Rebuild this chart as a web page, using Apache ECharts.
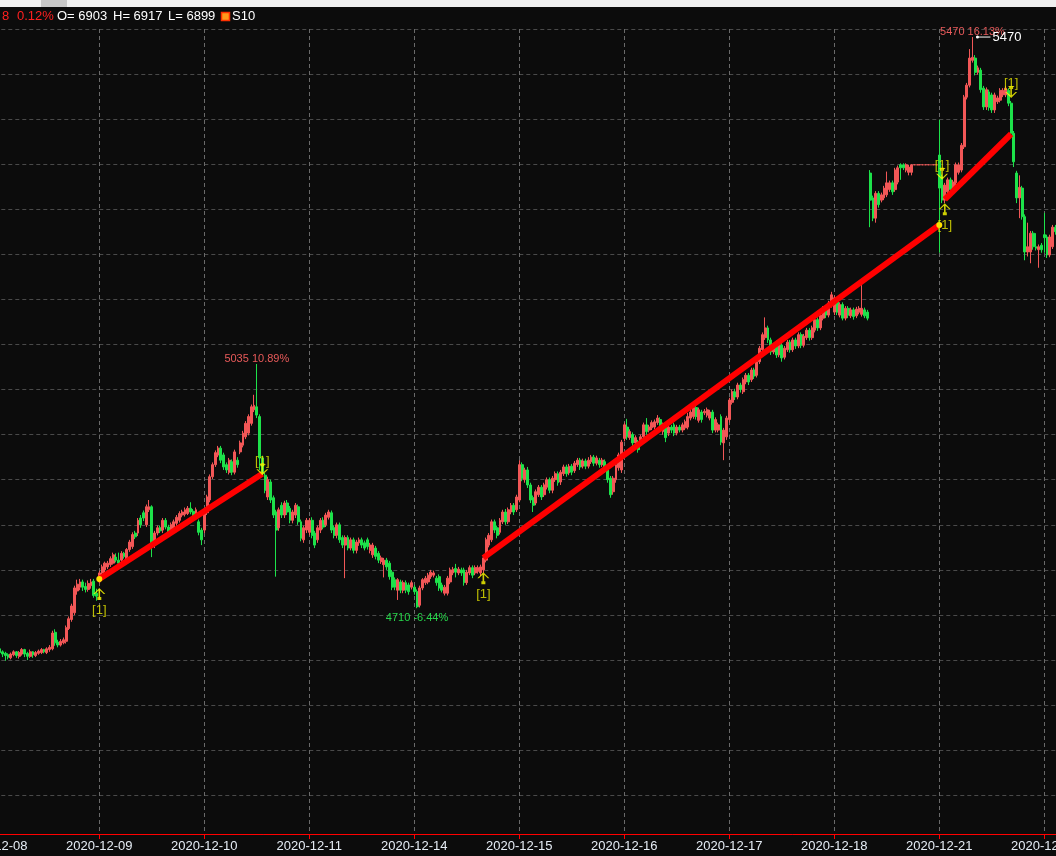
<!DOCTYPE html>
<html><head><meta charset="utf-8">
<script src="https://cdn.jsdelivr.net/npm/echarts@6/dist/echarts.min.js"></script>
<style>html,body{margin:0;padding:0;background:#0c0c0c;overflow:hidden}#c{width:1056px;height:856px}</style>
</head><body><div id="c"></div>
<script>
// ---- data ----
const days = ['2020-12-08','2020-12-09','2020-12-10','2020-12-11','2020-12-14','2020-12-15','2020-12-16','2020-12-17','2020-12-18','2020-12-21','2020-12-22'];
const barsPerDay = 38;
// bars: [open, close, low, high]
const d1208 = [[4652,4650,4647,4655],[4650,4654,4648,4657],[4656,4651,4648,4659],[4652,4649,4645,4654],[4650,4647,4640,4652],[4648,4645,4642,4650],[4644,4649,4642,4651],[4648,4652,4646,4654],[4652,4647,4644,4653],[4646,4651,4643,4653],[4649,4655,4647,4657],[4655,4649,4645,4656],[4650,4646,4641,4652],[4646,4652,4644,4655],[4652,4648,4644,4653],[4647,4651,4645,4653],[4650,4653,4648,4655],[4651,4655,4649,4657],[4655,4652,4650,4656],[4651,4656,4649,4658],[4655,4658,4652,4661],[4656,4677,4654,4680],[4678,4664,4660,4682],[4665,4661,4658,4668],[4661,4666,4659,4669],[4664,4668,4662,4671],[4666,4684,4663,4687],[4683,4696,4681,4699],[4695,4713,4692,4716],[4704,4737,4701,4740],[4733,4742,4728,4748],[4738,4745,4734,4749],[4745,4738,4733,4748],[4739,4735,4731,4744],[4735,4743,4732,4747],[4740,4745,4736,4749],[4746,4727,4724,4749],[4730,4726,4720,4736]];
const d1209 = [[4745,4757,4743,4760],[4757,4765,4753,4768],[4761,4770,4758,4772],[4765,4770,4762,4773],[4768,4776,4765,4779],[4770,4781,4768,4784],[4778,4774,4771,4783],[4774,4770,4768,4784],[4774,4783,4771,4786],[4783,4779,4776,4785],[4774,4788,4771,4790],[4788,4798,4785,4801],[4792,4808,4789,4811],[4810,4805,4802,4813],[4810,4827,4806,4830],[4830,4821,4817,4834],[4837,4830,4826,4840],[4821,4845,4818,4848],[4841,4845,4838,4854],[4845,4794,4778,4847],[4794,4810,4790,4813],[4810,4817,4807,4820],[4817,4813,4810,4820],[4814,4827,4810,4830],[4827,4818,4815,4830],[4818,4810,4806,4821],[4814,4821,4811,4824],[4818,4825,4815,4828],[4823,4831,4820,4834],[4827,4836,4824,4839],[4834,4838,4831,4841],[4835,4841,4832,4844],[4836,4843,4834,4846],[4843,4838,4835,4851],[4839,4834,4831,4842],[4834,4841,4831,4844],[4825,4811,4807,4828],[4814,4801,4794,4817]];
const d1210 = [[4814,4837,4810,4840],[4837,4858,4834,4861],[4854,4885,4851,4888],[4885,4901,4882,4904],[4901,4917,4898,4920],[4914,4923,4911,4926],[4923,4907,4903,4926],[4914,4898,4894,4917],[4901,4894,4890,4904],[4891,4907,4888,4910],[4905,4891,4887,4908],[4891,4918,4888,4921],[4907,4901,4897,4911],[4918,4930,4915,4933],[4927,4943,4924,4946],[4938,4956,4935,4959],[4943,4965,4940,4968],[4956,4978,4953,4981],[4974,4980,4971,4994],[4978,4967,4963,5035],[4965,4910,4894,4968],[4910,4890,4885,4913],[4887,4867,4863,4890],[4858,4881,4854,4885],[4878,4854,4850,4881],[4857,4834,4830,4860],[4838,4814,4752,4841],[4817,4841,4813,4844],[4847,4834,4830,4851],[4834,4850,4830,4853],[4850,4838,4834,4854],[4843,4827,4823,4846],[4827,4838,4823,4841],[4834,4847,4830,4850],[4845,4825,4821,4848],[4825,4803,4799,4828],[4801,4817,4797,4820],[4814,4827,4810,4830]];
const d1211 = [[4811,4827,4807,4830],[4827,4807,4803,4831],[4810,4794,4790,4813],[4801,4817,4797,4820],[4814,4827,4810,4830],[4827,4818,4815,4831],[4821,4834,4818,4837],[4831,4838,4828,4841],[4837,4814,4810,4840],[4817,4807,4803,4820],[4807,4821,4803,4824],[4821,4801,4797,4824],[4804,4794,4790,4807],[4794,4804,4750,4807],[4804,4790,4787,4807],[4790,4801,4787,4804],[4801,4787,4783,4804],[4787,4798,4783,4801],[4797,4801,4793,4804],[4801,4794,4790,4804],[4797,4790,4787,4800],[4801,4792,4788,4804],[4787,4794,4783,4797],[4781,4794,4777,4797],[4790,4779,4775,4793],[4783,4774,4770,4786],[4772,4777,4769,4780],[4768,4774,4751,4777],[4774,4765,4761,4777],[4770,4752,4748,4773],[4758,4738,4734,4761],[4748,4738,4734,4751],[4734,4748,4721,4750],[4745,4734,4730,4748],[4734,4744,4730,4747],[4744,4734,4730,4747],[4741,4732,4728,4744],[4738,4744,4735,4747]];
const d1214 = [[4738,4732,4728,4741],[4732,4712,4710,4735],[4714,4737,4711,4740],[4737,4748,4734,4750],[4744,4750,4741,4753],[4745,4754,4742,4757],[4752,4758,4749,4761],[4754,4757,4751,4760],[4750,4744,4740,4753],[4752,4737,4733,4755],[4741,4734,4731,4744],[4730,4738,4727,4741],[4730,4750,4727,4753],[4745,4761,4742,4764],[4757,4762,4754,4765],[4763,4758,4751,4769],[4757,4762,4754,4765],[4761,4757,4753,4764],[4761,4744,4740,4764],[4744,4758,4741,4761],[4757,4764,4754,4767],[4764,4754,4750,4767],[4757,4764,4754,4767],[4759,4764,4756,4767],[4757,4765,4753,4768],[4761,4777,4757,4780],[4774,4801,4771,4804],[4794,4807,4791,4810],[4801,4825,4798,4828],[4825,4814,4810,4828],[4817,4807,4803,4820],[4811,4827,4808,4830],[4825,4838,4822,4841],[4838,4825,4821,4842],[4825,4841,4822,4844],[4838,4847,4835,4850],[4847,4838,4834,4850],[4841,4858,4838,4861]];
const d1215 = [[4854,4901,4851,4907],[4901,4883,4879,4904],[4881,4894,4877,4897],[4894,4874,4870,4898],[4874,4854,4850,4877],[4857,4847,4838,4860],[4850,4865,4847,4868],[4861,4871,4858,4874],[4871,4858,4854,4874],[4861,4874,4858,4877],[4871,4881,4868,4884],[4881,4867,4863,4884],[4867,4883,4863,4886],[4881,4889,4878,4892],[4889,4877,4873,4892],[4878,4891,4874,4894],[4889,4898,4886,4901],[4898,4889,4885,4901],[4890,4899,4887,4902],[4899,4891,4887,4902],[4893,4903,4890,4906],[4901,4907,4898,4910],[4907,4898,4894,4910],[4899,4906,4896,4909],[4906,4899,4895,4909],[4899,4907,4896,4911],[4905,4911,4902,4914],[4911,4903,4899,4914],[4903,4910,4900,4913],[4907,4901,4897,4910],[4901,4907,4898,4910],[4905,4894,4890,4908],[4894,4881,4877,4897],[4883,4861,4857,4886],[4865,4883,4861,4886],[4881,4901,4877,4904],[4897,4914,4893,4917],[4894,4931,4890,4934]];
const d1216 = [[4936,4954,4932,4957],[4951,4938,4934,4962],[4937,4945,4934,4948],[4941,4930,4926,4944],[4930,4937,4927,4940],[4931,4921,4917,4934],[4930,4938,4926,4941],[4938,4954,4935,4957],[4954,4945,4941,4963],[4947,4951,4944,4954],[4950,4957,4947,4960],[4951,4958,4948,4961],[4957,4963,4954,4967],[4961,4951,4947,4964],[4945,4954,4941,4957],[4951,4937,4931,4954],[4943,4951,4939,4954],[4951,4947,4943,4954],[4954,4943,4939,4957],[4943,4951,4940,4954],[4951,4947,4944,4954],[4947,4954,4944,4957],[4950,4958,4947,4961],[4951,4965,4948,4970],[4963,4971,4960,4974],[4965,4977,4962,4980],[4977,4965,4961,4980],[4960,4974,4957,4977],[4971,4961,4957,4974],[4970,4972,4967,4975],[4967,4974,4964,4977],[4963,4971,4960,4974],[4971,4947,4943,4974],[4947,4961,4944,4964],[4947,4954,4944,4957],[4965,4931,4927,4968],[4930,4947,4907,4950],[4938,4963,4934,4966]];
const d1217 = [[4961,4987,4957,4990],[4984,4998,4981,5001],[4998,4991,4987,5002],[4991,5007,4988,5010],[5007,5001,4997,5010],[4998,5014,4995,5017],[5011,5020,5008,5023],[5020,5011,5007,5023],[5014,5027,5011,5030],[5027,5019,5015,5030],[5020,5038,5017,5041],[5038,5056,5035,5059],[5054,5074,5051,5077],[5070,5083,5067,5097],[5083,5067,5063,5086],[5067,5051,5047,5070],[5051,5060,5048,5063],[5063,5047,5043,5066],[5047,5060,5044,5063],[5060,5043,5038,5063],[5044,5056,5041,5059],[5054,5064,5051,5067],[5064,5054,5050,5067],[5054,5067,5051,5070],[5067,5059,5055,5070],[5059,5074,5056,5077],[5074,5060,5056,5077],[5060,5072,5057,5075],[5070,5080,5067,5083],[5080,5070,5066,5083],[5070,5083,5067,5086],[5080,5094,5077,5097],[5094,5083,5079,5097],[5083,5100,5080,5103],[5096,5109,5093,5112],[5109,5100,5096,5112],[5100,5116,5097,5119],[5113,5127,5110,5131]];
const d1218 = [[5104,5123,5100,5126],[5120,5104,5100,5124],[5100,5114,5097,5117],[5114,5096,5093,5117],[5096,5109,5093,5112],[5109,5100,5096,5112],[5099,5107,5096,5110],[5107,5098,5094,5110],[5099,5108,5096,5111],[5104,5109,5101,5112],[5101,5109,5098,5140],[5107,5099,5096,5110],[5104,5096,5093,5107],[5289,5253,5217,5293],[5256,5229,5225,5259],[5229,5262,5223,5265],[5262,5247,5243,5265],[5253,5260,5250,5263],[5256,5269,5253,5272],[5260,5276,5257,5291],[5267,5276,5264,5279],[5276,5264,5260,5279],[5267,5293,5264,5296],[5277,5296,5274,5299],[5300,5296,5280,5302],[5300,5296,5293,5302],[5293,5300,5290,5302],[5290,5297,5286,5300],[5290,5300,5286,5301],[5300,5300,5300,5300],[5300,5300,5300,5300],[5300,5300,5300,5300],[5300,5300,5300,5300],[5300,5300,5300,5300],[5300,5300,5300,5300],[5300,5300,5300,5300],[5300,5300,5300,5300],[5300,5300,5300,5300]];
const d1221 = [[5313,5269,5183,5360],[5284,5253,5249,5287],[5253,5273,5249,5276],[5264,5280,5261,5283],[5280,5267,5263,5283],[5269,5277,5266,5280],[5276,5300,5273,5303],[5290,5300,5287,5303],[5293,5326,5290,5329],[5324,5390,5321,5393],[5390,5406,5387,5409],[5406,5442,5403,5454],[5439,5443,5436,5470],[5442,5423,5419,5446],[5423,5429,5420,5432],[5426,5400,5396,5429],[5402,5377,5373,5405],[5377,5400,5373,5403],[5397,5376,5372,5400],[5393,5373,5369,5396],[5373,5393,5369,5396],[5384,5389,5381,5392],[5386,5399,5383,5402],[5393,5399,5390,5402],[5393,5402,5390,5405],[5399,5382,5378,5402],[5382,5342,5338,5385],[5342,5304,5297,5345],[5289,5256,5249,5292],[5256,5270,5229,5286],[5269,5231,5227,5272],[5231,5184,5173,5234],[5184,5191,5178,5223],[5184,5209,5169,5212],[5209,5191,5187,5212],[5191,5189,5186,5209],[5187,5191,5163,5194],[5193,5187,5183,5196]];
const d1222 = [[5207,5203,5183,5236],[5204,5180,5176,5207],[5180,5204,5177,5207],[5191,5217,5188,5220],[5217,5211,5207,5220],[5211,5220,5208,5223]];
const dayBars = [d1208,d1209,d1210,d1211,d1214,d1215,d1216,d1217,d1218,d1221,d1222];

// trend lines: [barIndex, value]
const trend1 = [[38,4749],[97,4889]];
const trend2 = [[177,4777],[342,5220]];
const trend3 = [[344,5254],[368,5341]];
// signal arrows: [barIndex, value]
const buySignals = [[38,4729],[177,4750],[344,5241]];
const sellSignals = [[97,4895],[343,5288],[368,5397]];
// swing labels
const swingIdx = [95, 153, 354];
const swingVal = [5035, 4710, 5470];
const swingText = ['5035 10.89%', '4710 -6.44%', '5470 16.13%'];
const swingKind = ['high', 'low', 'high'];
const maxLabel = '5470';
// header
const headerTexts = ['8', '0.12%', 'O= 6903', 'H= 6917', 'L= 6899', 'S10'];
const headerColors = ['#ff2020', '#ff2020', '#ffffff', '#ffffff', '#ffffff', '#ffffff'];

// ---- build ----
const categories = [];
const candles = [];
dayBars.forEach((arr, k) => arr.forEach((b, n) => { categories.push(days[k] + ' #' + (n + 1)); candles.push(b); }));
const isDayStart = (idx) => idx % barsPerDay === 0;
const toCat = p => [categories[p[0]], p[1]];

const UP = '#f25757', DOWN = '#1de24a';
const FONT = '"Liberation Sans", Arial, sans-serif';
const arrowUp = 'path://M6,0 L12,6 L10.4,6 L6,1.9 L1.6,6 L0,6 Z M5.2,1.5 L6.8,1.5 L6.8,10 L5.2,10 Z M4,9 L8,9 L8,12 L4,12 Z';
const arrowDown = 'path://M6,12 L12,6 L10.4,6 L6,10.1 L1.6,6 L0,6 Z M5.2,10.5 L6.8,10.5 L6.8,2 L5.2,2 Z M4,3 L8,3 L8,0 L4,0 Z';

const markData = swingIdx.map((i, k) => ({
  coord: [categories[i], swingVal[k]],
  symbol: 'circle', symbolSize: 1,
  itemStyle: { color: 'rgba(0,0,0,0)' },
  label: { show: true, formatter: swingText[k], position: 'inside',
    offset: [0, swingKind[k] === 'high' ? -5 : 10],
    color: swingKind[k] === 'high' ? '#e85a5a' : '#26d64a', fontSize: 11, fontFamily: FONT }
}));
markData.push({
  coord: [categories[354], 5470], symbol: 'rect', symbolSize: [14, 1], symbolOffset: [11, 0],
  itemStyle: { color: '#ffffff' },
  label: { show: true, formatter: maxLabel, position: 'right', distance: 2, color: '#ffffff', fontSize: 13, fontFamily: FONT }
});
markData.push({
  coord: [categories[354], 5470], symbol: 'circle', symbolSize: 3, symbolOffset: [5, 0],
  itemStyle: { color: '#ffffff' }, label: { show: false }
});

const trendSeries = [trend1, trend2, trend3].map(t => ({
  type: 'line', data: t.map(toCat), z: 5,
  lineStyle: { color: '#ff0000', width: 6 },
  symbol: 'circle', symbolSize: 6, showSymbol: true,
  itemStyle: { color: '#ffe100' }, silent: true
}));

const graphic = [
  { type: 'rect', x: 0, y: 0, shape: { width: 1056, height: 7 }, style: { fill: '#f0f0f0' } },
  { type: 'rect', x: 41, y: 0, shape: { width: 26, height: 7 }, style: { fill: '#c8c8c8' } },
  { type: 'rect', x: 221.5, y: 12.5, shape: { width: 8, height: 8 }, style: { fill: '#ff9a1a', stroke: '#ff3000', lineWidth: 1.5 } }
];
const headerX = [2, 17, 57, 113, 168, 232];
headerTexts.forEach((t, k) => graphic.push({
  type: 'text', x: headerX[k], y: 16,
  style: { text: t, fill: headerColors[k], font: '13px ' + FONT, verticalAlign: 'middle' }
}));

const chart = echarts.init(document.getElementById('c'));
chart.setOption({
  animation: false,
  backgroundColor: '#0c0c0c',
  graphic: graphic,
  grid: { left: -5.7, right: -2.1, top: 29, bottom: 22, containLabel: false, outerBoundsMode: 'none' },
  xAxis: {
    type: 'category', data: categories, boundaryGap: false,
    axisLine: { onZero: false, lineStyle: { color: '#ff0000', width: 1 } },
    axisTick: { show: true, interval: isDayStart, length: 5, lineStyle: { color: '#ff0000' } },
    axisLabel: { interval: isDayStart, formatter: v => v.split(' ')[0], color: '#e6edf5', fontSize: 13, fontFamily: FONT, margin: 6, hideOverlap: false },
    splitLine: { show: true, interval: isDayStart, lineStyle: { color: '#6a6a6a', type: [4, 3], width: 1 } }
  },
  yAxis: [
    { type: 'value', min: 4409.6, max: 5480.7, show: false, splitLine: { show: false } },
    { type: 'value', min: 0, max: 805, interval: 45.07, inverse: true,
      axisLine: { show: false }, axisTick: { show: false }, axisLabel: { show: false },
      splitLine: { show: true, lineStyle: { color: '#4a4a4a', type: [4, 3], width: 1 } } }
  ],
  series: [
    { type: 'candlestick', data: candles, barWidth: 2.4,
      itemStyle: { color: UP, color0: DOWN, borderColor: UP, borderColor0: DOWN, borderWidth: 1 },
      markPoint: { animation: false, silent: true, data: markData }
    },
    ...trendSeries,
    { type: 'scatter', data: buySignals.map(toCat), symbol: arrowUp, symbolSize: [12, 12], z: 6,
      itemStyle: { color: '#ffff00' },
      label: { show: true, formatter: '[1]', position: 'inside', offset: [0, 16], color: '#e8e800', fontSize: 13, fontFamily: FONT } },
    { type: 'scatter', data: sellSignals.map(toCat), symbol: arrowDown, symbolSize: [12, 12], z: 6,
      itemStyle: { color: '#ffff00' },
      label: { show: true, formatter: '[1]', position: 'inside', offset: [0, -8], color: '#e8e800', fontSize: 13, fontFamily: FONT } }
  ]
});
</script></body></html>
